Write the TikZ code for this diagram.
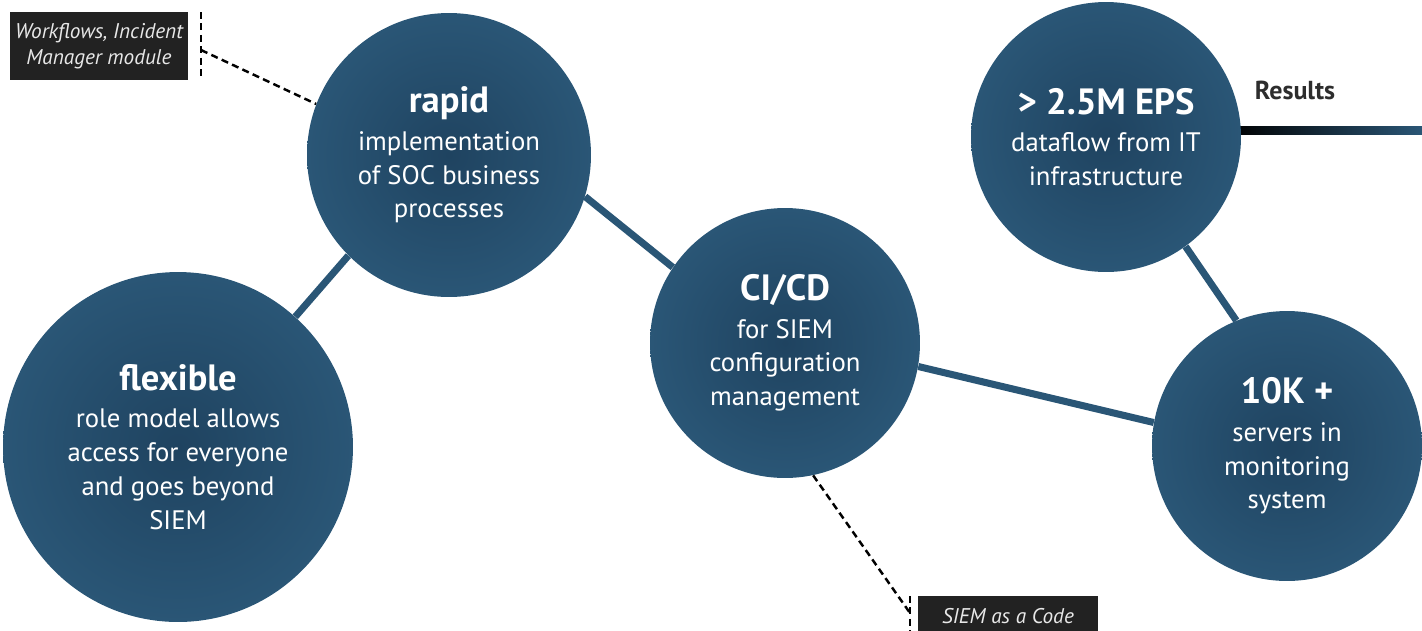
\documentclass[tikz,border=0pt]{standalone}
\usepackage{fontspec}
\setmainfont{PT Sans}
\usepackage{tikz}

\definecolor{circout}{HTML}{2A5676}
\definecolor{circin}{HTML}{1F4360}
\definecolor{tagfill}{HTML}{222222}
\definecolor{tagtext}{HTML}{E8E8E8}

\newcommand{\ttl}[1]{{\fontsize{20.8}{24}\selectfont\bfseries #1}\\[2pt]}

\begin{document}
\begin{tikzpicture}[x=0.02cm,y=-0.02cm,
    bubble/.style={circle,inner sep=0pt,text=white,align=center,
      inner color=circin,outer color=circout,
      font=\fontsize{15.2}{19.3}\selectfont},
    link/.style={line width=4pt,draw=circout},
    tag/.style={fill=tagfill,text=tagtext,inner sep=0pt,align=center,
      font=\fontsize{12.1}{14.8}\selectfont\itshape},
    pin/.style={line width=1.4pt,dash pattern=on 4pt off 2.5pt}]
    \useasboundingbox (0,0) rectangle (1422,630);
    % results bar
    \shade[left color=black,right color=circout] (1230,126) rectangle (1422,134);
    \node[font=\fontsize{14.8}{17}\selectfont\bfseries,text=tagfill!95] (res) at (1295,90) {Results};
    % bubbles
    \node[bubble,minimum size=7cm] (flex) at (178,447)
      {\ttl{flexible}role model allows\\access for everyone\\and goes beyond\\SIEM};
    \node[bubble,minimum size=5.68cm] (rapid) at (449,155)
      {\ttl{rapid}implementation\\of SOC business\\processes};
    \node[bubble,minimum size=5.4cm] (cicd) at (785,343)
      {\ttl{CI/CD}for SIEM\\configuration\\management};
    \node[bubble,minimum size=5.4cm] (eps) at (1106,137)
      {\ttl{> 2.5M EPS}dataflow from IT\\infrastructure};
    \node[bubble,minimum size=5.4cm] (srv) at (1287,446)
      {\ttl{10K +}servers in\\monitoring\\system};
    \draw[link] (flex.48) -- (rapid.225.6);
    \draw[link] (rapid.-17) -- (cicd.146);
    \draw[link] (cicd.-10.7) -- (srv.170);
    \draw[link] (eps.-54.5) -- (srv.112);
    % tags
    \node[tag,minimum width=3.56cm,minimum height=1.36cm] (wf) at (99,46)
      {Workflows, Incident\\Manager module};
    \coordinate (wftop) at (201,12);
    \coordinate (wfbot) at (201,80);
    \coordinate (wfpin) at (201,50);
    \draw[pin] (wftop) -- (wfbot);
    \draw[pin] (wfpin) -- (rapid.159);
    \node[tag,anchor=north,minimum width=3.6cm,minimum height=0.8cm] (code) at (1008,596)
      {SIEM as a Code};
    \coordinate (codetop) at (910,596);
    \coordinate (codebot) at (910,640);
    \coordinate (codepin) at (910,613);
    \draw[pin] (codetop) -- (codebot);
    \draw[pin] (cicd.-78.3) -- (codepin);
\end{tikzpicture}
\end{document}
